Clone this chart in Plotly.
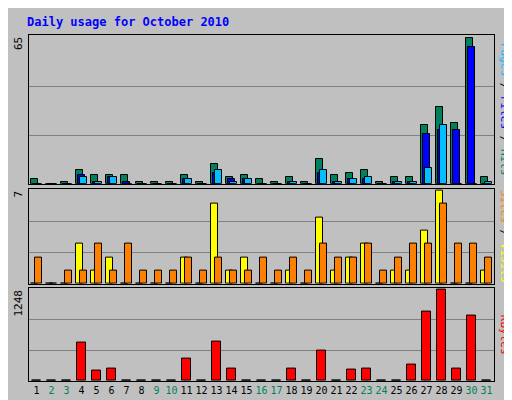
import plotly.graph_objects as go
from plotly.subplots import make_subplots

days = list(range(1, 32))
weekend = [2, 3, 9, 10, 16, 17, 23, 24, 30, 31]

hits = [2, 0, 1, 6, 4, 4, 4, 1, 1, 1, 4, 1, 9, 3, 4, 2, 1, 3, 1, 11, 4, 5, 6, 1, 3, 3, 26, 34, 27, 65, 3]
files = [0, 0, 0, 4, 1, 3, 1, 0, 0, 0, 2, 0, 5, 2, 2, 0, 0, 1, 0, 5, 1, 2, 2, 0, 1, 1, 22, 24, 24, 61, 0]
pages = [0, 0, 0, 3, 1, 3, 0, 0, 0, 0, 2, 0, 6, 1, 2, 0, 0, 1, 0, 6, 1, 2, 3, 0, 1, 1, 7, 26, 0, 0, 1]
visits = [0, 0, 0, 3, 1, 2, 0, 0, 0, 0, 2, 0, 6, 1, 2, 0, 0, 1, 0, 5, 1, 2, 3, 0, 1, 1, 4, 7, 0, 0, 1]
sites = [2, 0, 1, 1, 3, 1, 3, 1, 1, 1, 2, 1, 2, 1, 1, 2, 1, 2, 1, 3, 2, 2, 3, 1, 2, 3, 3, 6, 3, 3, 2]
kbytes = [0, 0, 0, 524, 141, 169, 0, 0, 0, 0, 305, 0, 537, 169, 0, 0, 0, 169, 0, 414, 0, 155, 169, 0, 0, 223, 947, 1248, 169, 893, 0]

FONT = "DejaVu Sans Mono"
BG = "#C0C0C0"

fig = make_subplots(rows=3, cols=1, vertical_spacing=0.0)


def shifted(off):
    return [d + off for d in days]


def bar(x, y, color, width, row):
    fig.add_trace(go.Bar(x=x, y=y, width=width, marker=dict(color=color, line=dict(color="black", width=1)),
                         showlegend=False, hoverinfo="y"), row=row, col=1)


# hits / files / pages
bar(shifted(-0.13), hits, "#00805C", 0.47, 1)
bar(shifted(0.0), files, "#0000FF", 0.47, 1)
bar(shifted(0.13), pages, "#00C0FF", 0.47, 1)
# visits / sites
bar(shifted(-0.13), visits, "#FFFF00", 0.5, 2)
bar(shifted(0.13), sites, "#FF8000", 0.5, 2)
# kbytes
bar(days, kbytes, "#FF0000", 0.66, 3)

maxes = [max(hits), max(sites + visits), max(kbytes)]
domains = [[0.57, 1.0], [0.281, 0.556], [0.0, 0.27]]

ticktext = []
for d in days:
    c = "#00805C" if d in weekend else "black"
    ticktext.append(f"<span style='color:{c}'>{d}</span>")

for i in range(3):
    m = maxes[i]
    fig.update_yaxes(row=i + 1, col=1, range=[0, m * 1.02], domain=domains[i],
                     tickvals=[m / 3, 2 * m / 3], showticklabels=False,
                     showgrid=True, gridcolor="#808080", gridwidth=1, zeroline=False,
                     showline=True, mirror=True, linecolor="black", fixedrange=True)
    fig.update_xaxes(row=i + 1, col=1, range=[0.5, 31.5], showgrid=False, zeroline=False,
                     showline=True, mirror=True, linecolor="black",
                     tickvals=days, ticktext=ticktext, showticklabels=(i == 2),
                     tickangle=0, ticks="", tickfont=dict(family=FONT, size=10))

annotations = []
for y, m in zip([1.0, 0.556, 0.27], maxes):
    annotations.append(dict(xref="paper", yref="paper", x=0, xshift=-2, y=y, text=str(m),
                            textangle=-90, xanchor="right", yanchor="top", showarrow=False,
                            font=dict(family=FONT, size=11, color="black")))
right = [
    (0.785, "<span style='color:#00C0FF'>Pages</span> / <span style='color:#0000FF'>Files</span> / <span style='color:#00805C'>Hits</span>"),
    (0.418, "<span style='color:#FF8000'>Sites</span> / <span style='color:#FFFF00'>Visits</span>"),
    (0.135, "<span style='color:#FF0000'>KBytes</span>"),
]
for y, t in right:
    annotations.append(dict(xref="paper", yref="paper", x=1, xshift=2, y=y, text=t, textangle=90,
                            xanchor="left", yanchor="middle", showarrow=False,
                            font=dict(family=FONT, size=11, color="black")))
annotations.append(dict(xref="paper", yref="paper", x=0, xshift=-4, y=1.0, yshift=22, xanchor="left", yanchor="top",
                        text="<b>Daily usage for October 2010</b>", showarrow=False,
                        font=dict(family=FONT, size=12, color="#0000FF")))

fig.update_layout(
    width=512, height=400,
    margin=dict(l=21, r=26, t=27, b=24),
    paper_bgcolor=BG, plot_bgcolor=BG,
    barmode="overlay", bargap=0,
    annotations=annotations,
    font=dict(family=FONT, size=11),
)

fig.write_html("out.html")
